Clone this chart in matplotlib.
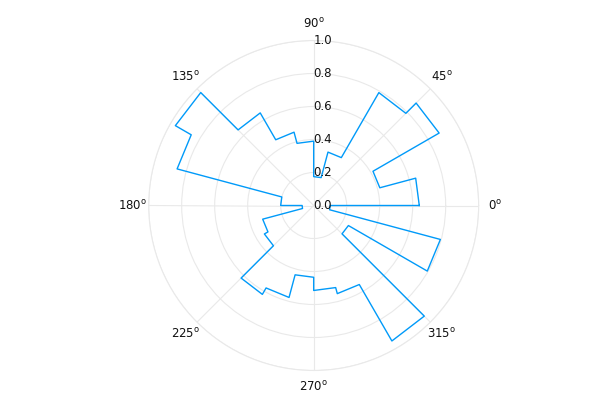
import numpy as np
import matplotlib
matplotlib.use("Agg")
import matplotlib.pyplot as plt

# 24 angular bins of 15 degrees, radius per bin
bin_edges_deg = np.arange(0, 361, 15)
bin_values = [0.64, 0.415, 0.878, 0.79, 0.335, 0.175, 0.39, 0.46,
              0.648, 0.968, 0.857, 0.2, 0.07, 0.32, 0.345, 0.622,
              0.577, 0.435, 0.515, 0.553, 0.948, 0.243, 0.795, 0.1]
r_ticks = [0.0, 0.2, 0.4, 0.6, 0.8, 1.0]
theta_ticks = [0, 45, 90, 135, 180, 225, 270, 315]

grid_col = "#e9e9e9"
line_col = "#009af9"

# step outline: each bin goes from its left edge to its right edge at constant r
theta_pts = []
r_pts = []
for i, v in enumerate(bin_values):
    theta_pts += [bin_edges_deg[i], bin_edges_deg[i + 1]]
    r_pts += [v, v]
theta_pts.append(theta_pts[0])
r_pts.append(r_pts[0])
theta_pts = np.deg2rad(theta_pts)

fig = plt.figure(figsize=(6, 4), dpi=100)
ax = fig.add_axes([0.2478, 0.07375, 0.55, 0.825], projection="polar")

ax.plot(theta_pts, r_pts, color=line_col, lw=1.0)

ax.set_ylim(0, 1)
ax.set_yticks(r_ticks[1:])
ax.set_xticks(np.deg2rad(theta_ticks))
ax.set_yticklabels([])
ax.set_xticklabels([])
ax.tick_params(length=0)
ax.grid(True, color=grid_col, lw=0.8)
ax.spines["polar"].set_color(grid_col)
ax.spines["polar"].set_linewidth(0.8)

# radial labels along the 90 degree spoke
for r in r_ticks:
    ax.text(np.pi / 2, r, f"{r:.1f}", ha="left", va="center",
            fontsize=8.5, color="#111111", clip_on=False)

# angle labels
for t in theta_ticks:
    ax.text(np.deg2rad(t), 1.1, rf"{t}$^{{\rm o}}$", ha="center", va="center",
            fontsize=8.5, color="#111111", clip_on=False)

fig.savefig("out.png", dpi=100)
